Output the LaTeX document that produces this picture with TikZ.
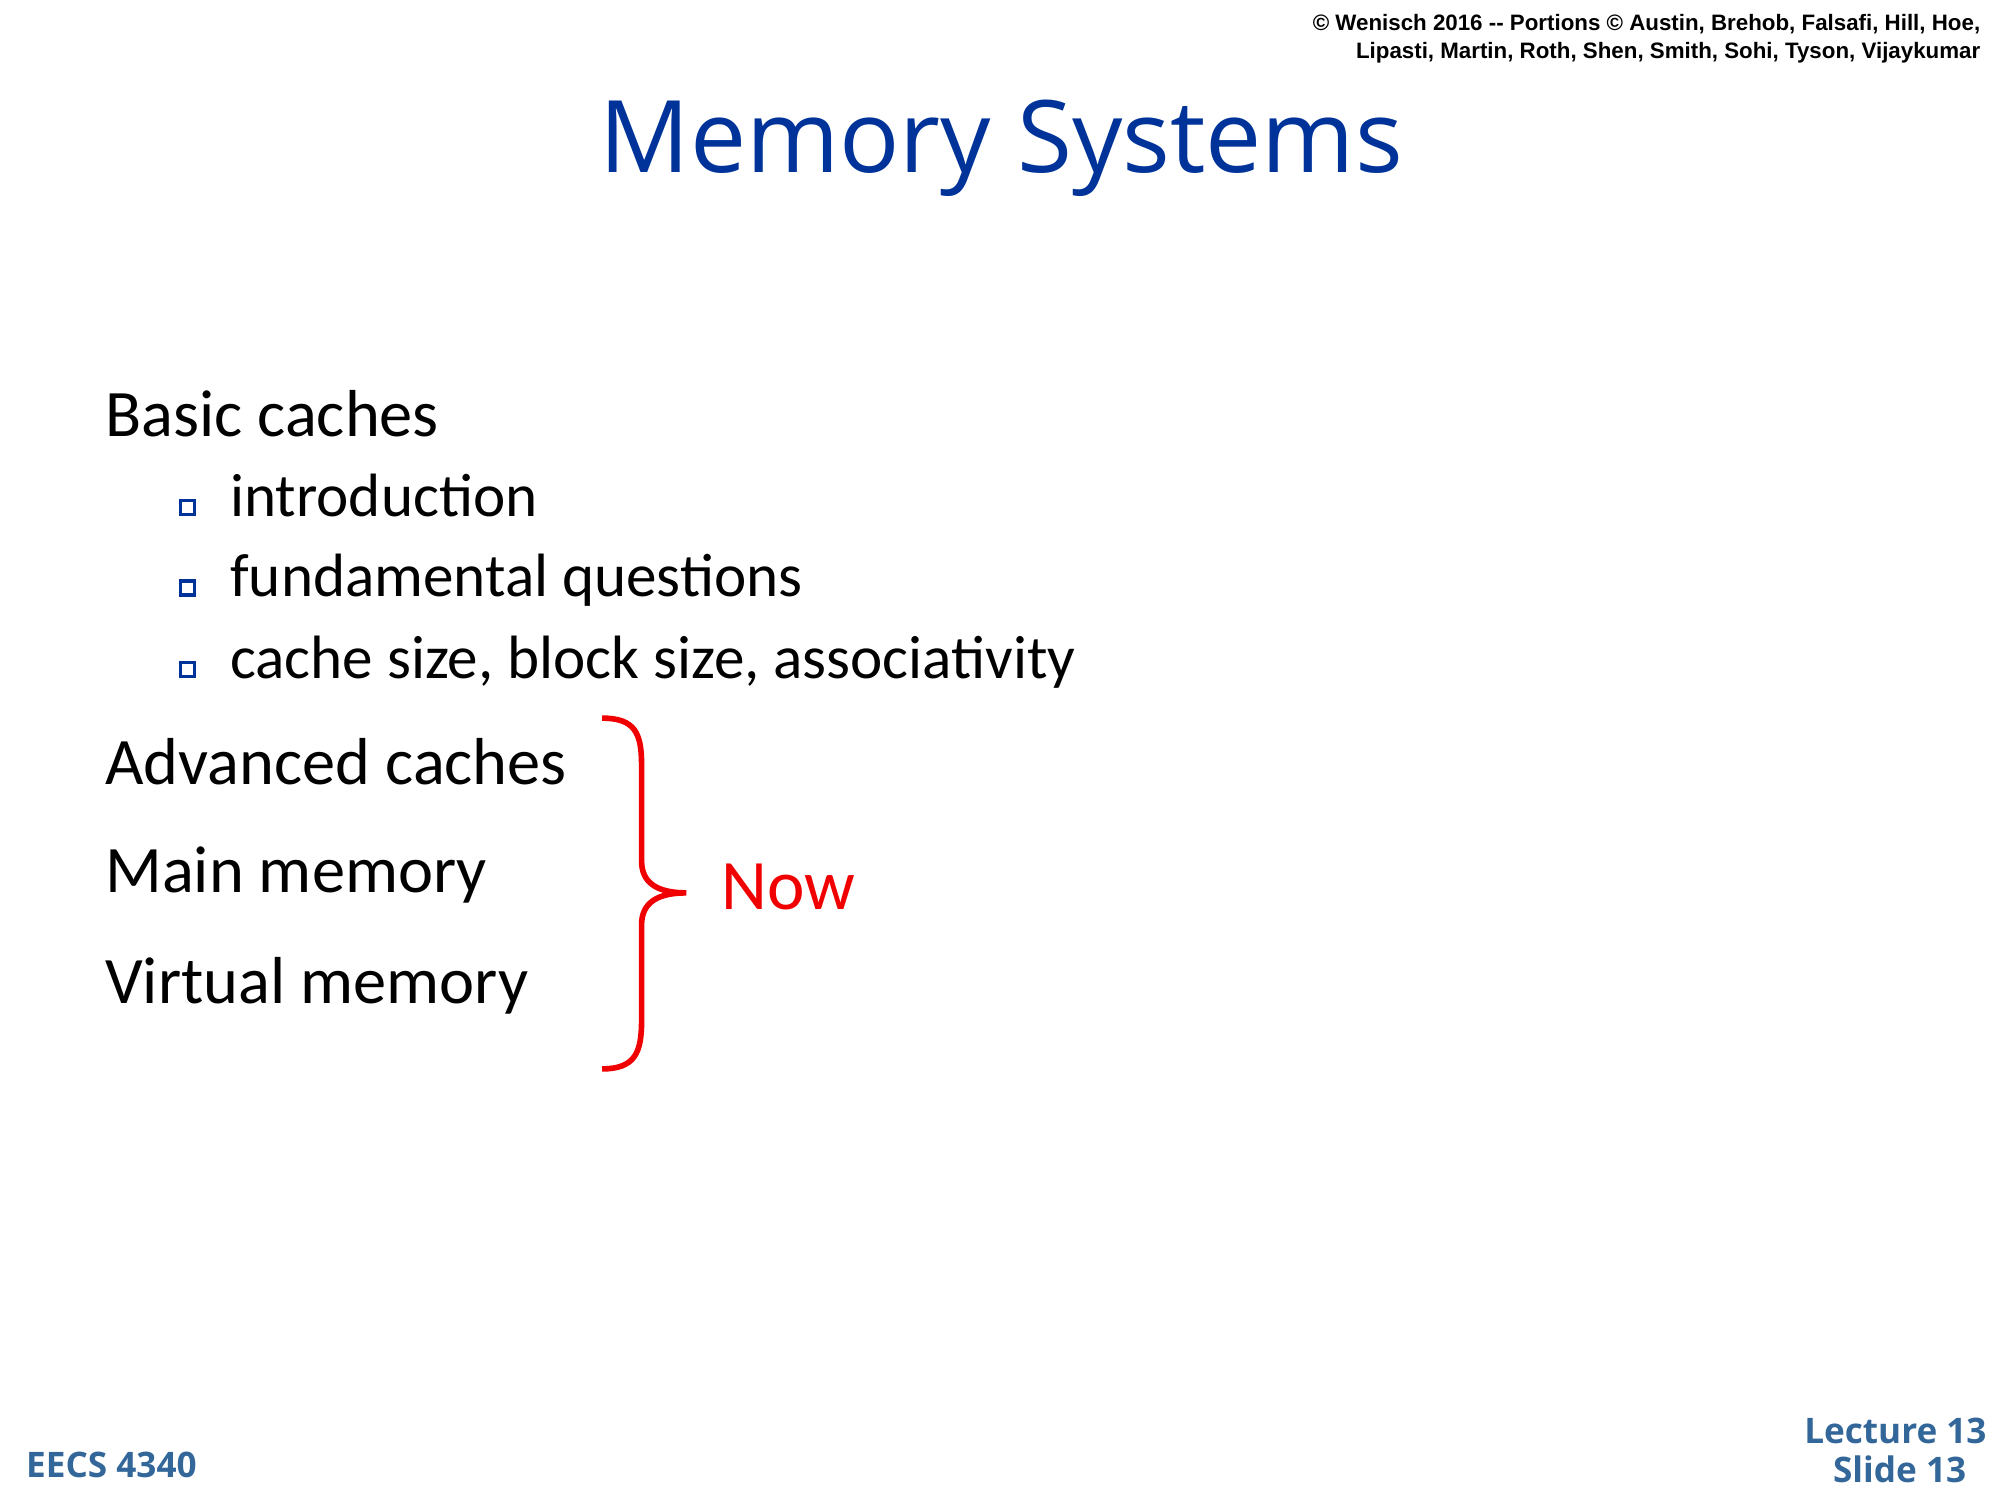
\documentclass[tikz,border=0pt]{standalone}
\usepackage{fontspec}
\setmainfont{Carlito}
\newfontfamily\headfont{Liberation Sans}
\newfontfamily\comicfont{Open Sans}
\definecolor{titleblue}{RGB}{0,51,153}
\definecolor{footblue}{RGB}{51,102,153}
\definecolor{nowred}{RGB}{240,0,0}
\tikzset{
  item/.style={anchor=base west,inner sep=0pt,font=\fontsize{18.9}{22}\selectfont},
  subitem/.style={anchor=base west,inner sep=0pt,font=\fontsize{17.4}{21}\selectfont},
  bulletbox/.style={draw=titleblue,line width=0.9pt,minimum size=4pt,inner sep=0pt},
  foot/.style={inner sep=0pt,text=footblue,font=\comicfont\bfseries\fontsize{10}{12}\selectfont}
}
\begin{document}
\begin{tikzpicture}[x=0.012755cm,y=-0.012755cm]
\useasboundingbox (0,0) rectangle (1568,1176);
% header
\node[anchor=base east,inner sep=0pt,font=\headfont\bfseries\fontsize{6.35}{8}\selectfont] (copy) at (1553,24)
  {© Wenisch 2016 -- Portions © Austin, Brehob, Falsafi, Hill, Hoe,};
\node[anchor=base east,inner sep=0pt,font=\headfont\bfseries\fontsize{6.35}{8}\selectfont] (copy2) at (1553,46)
  {Lipasti, Martin, Roth, Shen, Smith, Sohi, Tyson, Vijaykumar};
% title
\node[anchor=base,inner sep=0pt,text=titleblue,font=\comicfont\fontsize{28.5}{34}\selectfont] (title) at (785,135) {Memory Systems};
% items
\node[item] (basic) at (82,342) {Basic caches};
\foreach \y/\t [count=\i] in {405/introduction,468/fundamental questions,532/{cache size, block size, associativity}}{
  \node[subitem] (sub\i) at (180,\y) {\t};
  \node[bulletbox] (bul\i) at (147,\y-7) {};
}
\node[item] (adv) at (82,615) {Advanced caches};
\node[item] (main) at (82,700) {Main memory};
\node[item] (virt) at (82,787) {Virtual memory};
% brace
\coordinate (btop) at (472,563);
\coordinate (bbot) at (472,838);
\coordinate (btip) at (538,700);
\draw[nowred,line width=1.6pt] (btop) .. controls (498,563) and (503,575) .. (503,600)
  -- (503,675) .. controls (503,692) and (515,700) .. (btip)
  .. controls (515,700) and (503,708) .. (503,725)
  -- (503,800) .. controls (503,825) and (498,838) .. (bbot);
\node[anchor=base west,inner sep=0pt,text=nowred,font=\fontsize{20.2}{24}\selectfont] (now) at (565,713) {Now};
% footer
\node[foot,anchor=base west] (course) at (20,1158) {EECS 4340};
\node[foot,anchor=base east] (lect) at (1558,1132) {Lecture 13};
\node[foot,anchor=base east] (slide) at (1542,1162) {Slide 13};
\end{tikzpicture}
\end{document}
